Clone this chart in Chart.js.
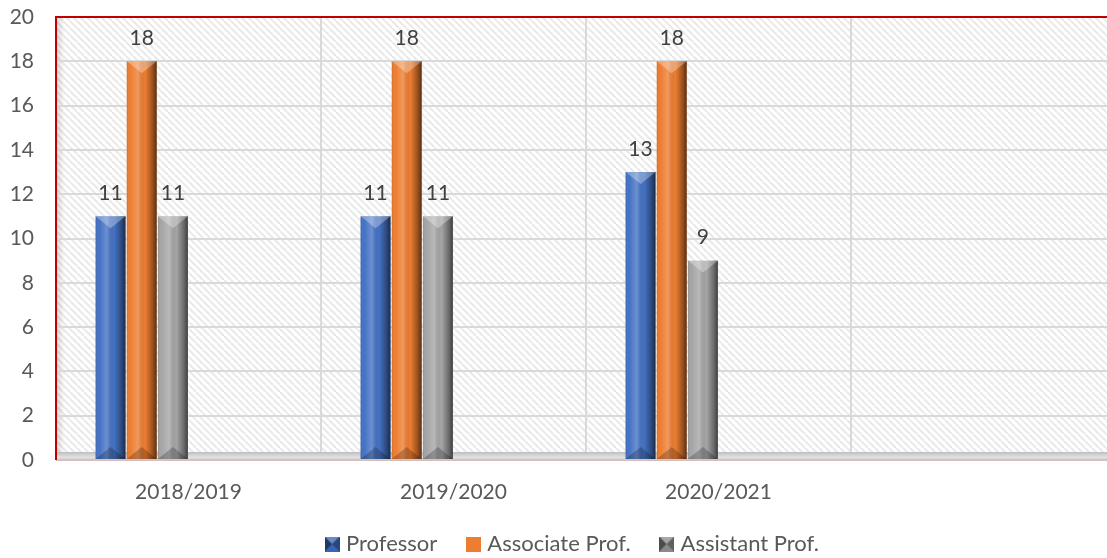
<!DOCTYPE html>
<html><head><meta charset="utf-8">
<script src="https://cdn.jsdelivr.net/npm/chart.js@4.4.0/dist/chart.umd.min.js"></script>
<style>
html,body{margin:0;padding:0;background:#fff;overflow:hidden;}
#wrap{width:1116px;height:565px;}
</style></head><body>
<div id="wrap"><canvas id="c" width="1116" height="565"></canvas></div>
<script>
// ---- data ----
const categories = ['2018/2019', '2019/2020', '2020/2021', ''];
const professor = [11, 11, 13, null];
const associateProf = [18, 18, 18, null];
const assistantProf = [11, 11, 9, null];
const emptySeries = [null, null, null, null];
const seriesNames = ['Professor', 'Associate Prof.', 'Assistant Prof.'];
const yMin = 0, yMax = 20, yStep = 2;

// ---- styling ----
const FONT = 'Lato, "Open Sans", sans-serif';
const baseColors = ['#4472C4', '#ED7D31', '#A5A5A5'];

function makeLegendIcon(color, shaded) {
  const c = document.createElement('canvas');
  c.width = 15; c.height = 15;
  const x = c.getContext('2d');
  x.fillStyle = color; x.fillRect(0, 0, 15, 15);
  if (shaded) {
    x.fillStyle = 'rgba(0,0,0,0.45)';
    x.beginPath(); x.moveTo(0, 0); x.lineTo(7.5, 7.5); x.lineTo(0, 15); x.closePath(); x.fill();
    x.fillStyle = 'rgba(0,0,0,0.3)';
    x.beginPath(); x.moveTo(15, 0); x.lineTo(7.5, 7.5); x.lineTo(15, 15); x.closePath(); x.fill();
    x.fillStyle = 'rgba(255,255,255,0.25)';
    x.beginPath(); x.moveTo(0, 0); x.lineTo(15, 0); x.lineTo(7.5, 7.5); x.closePath(); x.fill();
  }
  return c;
}
const legendIcons = [makeLegendIcon('#3a64b4', true), makeLegendIcon('#ED7D31', false), makeLegendIcon('#8a8a8a', true)];

function makePattern(ctx) {
  const t = document.createElement('canvas');
  t.width = 7; t.height = 7;
  const p = t.getContext('2d');
  p.fillStyle = '#ffffff'; p.fillRect(0, 0, 7, 7);
  p.strokeStyle = '#e9e9e9'; p.lineWidth = 2;
  [-7, 0, 7].forEach(o => { p.beginPath(); p.moveTo(o, 0); p.lineTo(o + 7, 7); p.stroke(); });
  return ctx.createPattern(t, 'repeat');
}

const backgroundPlugin = {
  id: 'bgPattern',
  afterLayout(chart) {
    if (chart.legend) { chart.legend.left += 16; chart.legend.right += 16; }
  },
  beforeDraw(chart) {
    const {ctx, chartArea: a} = chart;
    ctx.save();
    ctx.fillStyle = makePattern(ctx);
    ctx.fillRect(a.left, a.top, a.right - a.left, a.bottom - a.top);
    const g = ctx.createLinearGradient(a.left, 0, a.left + 9, 0);
    g.addColorStop(0, 'rgba(0,0,0,0.14)');
    g.addColorStop(1, 'rgba(0,0,0,0)');
    ctx.fillStyle = g;
    ctx.fillRect(a.left, a.top, 9, a.bottom - a.top);
    ctx.restore();
  },
  beforeDatasetsDraw(chart) {
    const {ctx, chartArea: a} = chart;
    ctx.save();
    const h = 8;
    const g = ctx.createLinearGradient(0, a.bottom - h, 0, a.bottom);
    g.addColorStop(0, '#bdbdbd');
    g.addColorStop(0.35, '#d2d2d2');
    g.addColorStop(0.7, '#e2e2e2');
    g.addColorStop(1, '#c4c4c4');
    ctx.fillStyle = g;
    ctx.fillRect(a.left, a.bottom - h, a.right - a.left, h);
    ctx.fillStyle = 'rgba(210,170,170,0.6)';
    ctx.fillRect(a.left, a.bottom, a.right - a.left, 1);
    ctx.restore();
  },
  afterDraw(chart) {
    const {ctx, chartArea: a} = chart;
    ctx.save();
    ctx.strokeStyle = '#C00000';
    ctx.lineWidth = 2;
    ctx.beginPath();
    ctx.moveTo(a.left, a.bottom);
    ctx.lineTo(a.left, a.top);
    ctx.lineTo(a.right, a.top);
    ctx.stroke();
    ctx.restore();
  }
};

const bevelPlugin = {
  id: 'bevel',
  afterDatasetsDraw(chart) {
    const ctx = chart.ctx;
    ctx.save();
    chart.data.datasets.forEach((ds, i) => {
      const meta = chart.getDatasetMeta(i);
      if (meta.hidden) return;
      meta.data.forEach((bar, j) => {
        const v = ds.data[j];
        if (v == null) return;
        const {x, y, base, width} = bar.getProps(['x', 'y', 'base', 'width'], true);
        const l = x - width / 2, r = x + width / 2;
        const g = ctx.createLinearGradient(l, 0, r, 0);
        g.addColorStop(0, 'rgba(0,0,0,0.12)');
        g.addColorStop(0.12, 'rgba(255,255,255,0.0)');
        g.addColorStop(0.38, 'rgba(255,255,255,0.22)');
        g.addColorStop(0.62, 'rgba(0,0,0,0.0)');
        g.addColorStop(0.86, 'rgba(0,0,0,0.35)');
        g.addColorStop(1, 'rgba(0,0,0,0.62)');
        ctx.fillStyle = g;
        ctx.fillRect(l, y, width, base - y);
        const h = Math.min(width * 0.4, (base - y) / 2);
        ctx.beginPath(); ctx.moveTo(l, y); ctx.lineTo(r, y); ctx.lineTo(x, y + h); ctx.closePath();
        ctx.fillStyle = 'rgba(255,255,255,0.3)'; ctx.fill();
        ctx.beginPath(); ctx.moveTo(l, base); ctx.lineTo(r, base); ctx.lineTo(x, base - h); ctx.closePath();
        ctx.fillStyle = 'rgba(0,0,0,0.22)'; ctx.fill();
        // data label
        ctx.fillStyle = '#404040';
        ctx.font = '21px ' + FONT;
        ctx.textAlign = 'center';
        ctx.textBaseline = 'middle';
        ctx.fillText(String(v), x, y - 23);
      });
    });
    ctx.restore();
  }
};

const seriesData = [professor, associateProf, assistantProf, emptySeries, emptySeries, emptySeries];
const datasets = seriesData.map((d, i) => ({
  label: seriesNames[i] || '',
  data: d,
  backgroundColor: baseColors[i] || 'rgba(0,0,0,0)',
  borderWidth: 0,
  categoryPercentage: 0.706,
  barPercentage: 0.96,
  pointStyle: legendIcons[i] || 'rect'
}));

new Chart(document.getElementById('c'), {
  type: 'bar',
  data: {labels: categories, datasets},
  options: {
    responsive: false,
    animation: false,
    layout: {padding: {top: 17, right: 0, bottom: 0, left: 0}},
    plugins: {
      tooltip: {enabled: false},
      legend: {
        position: 'bottom',
        labels: {
          filter: item => item.datasetIndex < 3,
          usePointStyle: true,
          boxWidth: 6,
          boxHeight: 14,
          padding: 33,
          color: '#595959',
          font: {family: FONT, size: 22}
        }
      }
    },
    scales: {
      x: {
        offset: true,
        grid: {offset: true, color: '#d9d9d9', lineWidth: 2, drawTicks: false},
        border: {display: false},
        ticks: {padding: 20, color: '#595959', font: {family: FONT, size: 21}},
        afterFit: s => { s.height = 40; s.paddingLeft = 0; s.paddingRight = 0; }
      },
      y: {
        min: yMin, max: yMax,
        grid: {color: '#d9d9d9', lineWidth: 2, drawTicks: false},
        border: {display: false},
        ticks: {stepSize: yStep, padding: 22, color: '#595959', font: {family: FONT, size: 21}},
        afterFit: s => { s.width = 56; s.paddingTop = 0; s.paddingBottom = 0; }
      }
    }
  },
  plugins: [backgroundPlugin, bevelPlugin]
});
</script>
</body></html>
